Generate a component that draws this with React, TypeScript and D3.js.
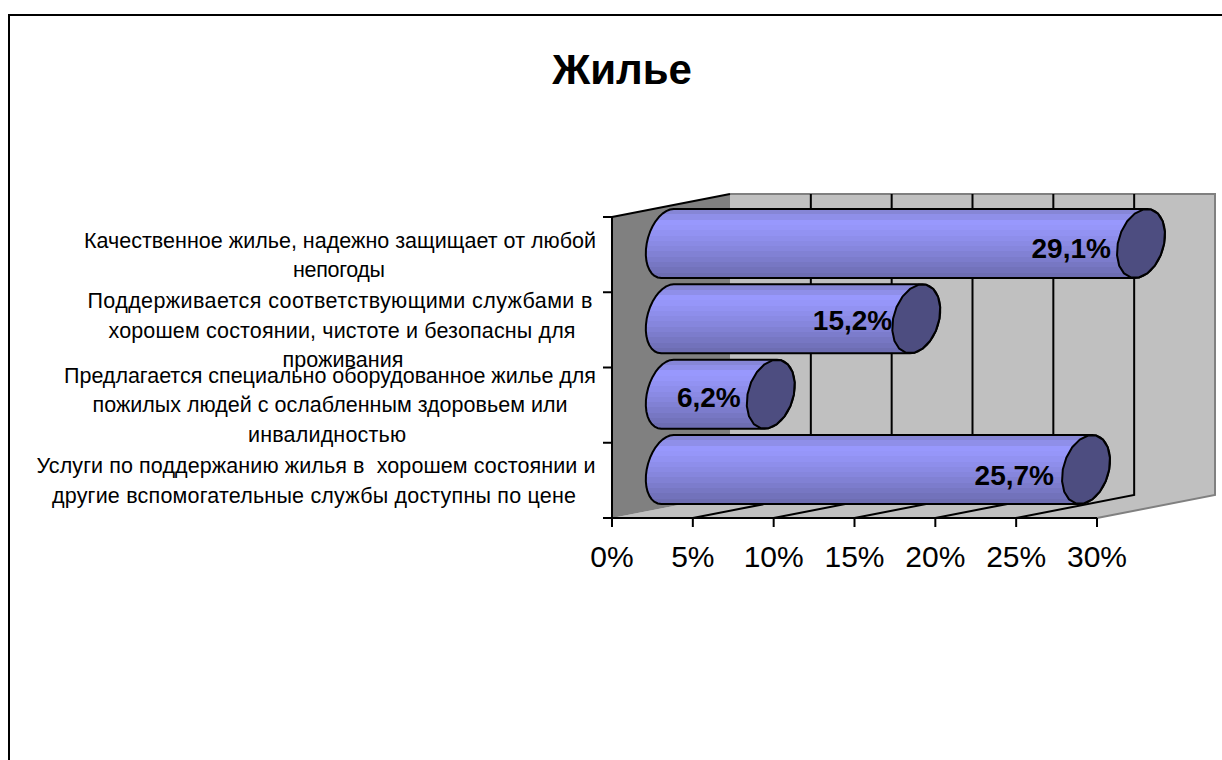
import React from "react";
import * as d3 from "d3";

const title = "Жилье";
const categories = [
  "Качественное жилье, надежно защищает от любой непогоды",
  "Поддерживается соответствующими службами в хорошем состоянии, чистоте и безопасны для проживания",
  "Предлагается специально оборудованное жилье для пожилых людей с ослабленным здоровьем или инвалидностью",
  "Услуги по поддержанию жилья в  хорошем состоянии и другие вспомогательные службы доступны по цене",
];
const values = [29.1, 15.2, 6.2, 25.7];
const valueLabels = ["29,1%", "15,2%", "6,2%", "25,7%"];
const axisTicks = [0, 5, 10, 15, 20, 25, 30];

const labelLines = [
  ["Качественное жилье, надежно защищает от любой", "непогоды"],
  ["Поддерживается соответствующими службами в", "хорошем состоянии, чистоте и безопасны для", "проживания"],
  ["Предлагается специально оборудованное жилье для", "пожилых людей с ослабленным здоровьем или", "инвалидностью"],
  ["Услуги по поддержанию жилья в  хорошем состоянии и", "другие вспомогательные службы доступны по цене"],
];
// layout of the wrapped labels
const lineBaselines = [[248, 277], [308, 338, 367], [383, 412, 442], [473, 503]];
const lineCentres = [[340, 339], [340, 342, 343], [330, 330, 327], [316, 314]];
const lineWidths = [[512, 92], [505, 467, 121], [532, 475, 158], [559, 524]];
const labelEnds = [0, 6, 0, -2];
const labelBaselines = [258, 330, 407, 485];

const FONT = '"Liberation Sans", Arial, sans-serif';
const depthX = 118;
const depthY = 23;
const floorY = 518;
const backTop = 194;
const backBottom = floorY - depthY;

const xFront = d3.scaleLinear().domain([0, 30]).range([612, 1097]);
const xBack = (v: number) => xFront(v) + depthX;
const xMid = (v: number) => xFront(v) + 58.5;
const yBand = d3.scaleBand<number>().domain(d3.range(categories.length)).range([209, 504]).paddingInner(0.084);
const yTick = d3.scaleLinear().domain([0, categories.length]).range([217, floorY]);

const rx = 23.2;
const skew = 6.2;
const line = d3.line<[number, number]>();
const CAP_STEPS = 18;

function capPoints(cx: number, top: number, h: number, rad: number, from: number, to: number) {
  const ry = h / 2;
  const cy = top + ry;
  return d3.range(CAP_STEPS + 1).map((i) => {
    const t = from + ((to - from) * i) / CAP_STEPS;
    const dy = Math.sin(t) * ry;
    const p: [number, number] = [cx + Math.cos(t) * rad - (dy / ry) * skew, cy + dy];
    return p;
  });
}

// the horizontal shading bands of the cylinder
const shade = d3
  .scaleLinear<string>()
  .domain([0, 0.2, 0.55, 1])
  .range(["#8282cc", "#9999ff", "#8888e0", "#6a6aae"]);
const BAND_COUNT = 13;
const bandStops = d3.range(BAND_COUNT).flatMap((i) => [
  { offset: i / BAND_COUNT, color: shade((i + 0.5) / BAND_COUNT) },
  { offset: (i + 1) / BAND_COUNT, color: shade((i + 0.5) / BAND_COUNT) },
]);

export default function App() {
  const bw = yBand.bandwidth();
  return (
    <svg
      width={1222}
      height={760}
      viewBox="0 0 1222 760"
      style={{ position: "fixed", left: 0, top: 0, background: "#fff" }}
      fontFamily={FONT}
    >
      <defs>
        <linearGradient id="cyl" x1="0" y1="0" x2="0" y2="1">
          {bandStops.map((s, i) => (
            <stop key={i} offset={s.offset} stopColor={s.color} />
          ))}
        </linearGradient>
      </defs>

      {/* frame */}
      <path d="M9,760 V15 H1222" fill="none" stroke="#000" strokeWidth={2} />

      <text x={622} y={84} textAnchor="middle" fontSize={42} fontWeight={700} fill="#000">
        {title}
      </text>

      {/* walls */}
      <path
        d={line([
          [xFront(0), floorY],
          [xBack(0), backBottom],
          [xBack(0), backTop],
          [xBack(30), backTop],
          [xBack(30), backBottom],
          [xFront(30), floorY],
        ])! + "Z"}
        fill="#c0c0c0"
      />
      <path
        d={line([
          [xBack(0), backTop],
          [xBack(30), backTop],
          [xBack(30), backBottom],
          [xFront(30), floorY],
        ])!}
        stroke="#808080"
        strokeWidth={2}
        fill="none"
      />
      <path
        d={line([
          [xFront(0), yTick(0)],
          [xBack(0), backTop],
          [xBack(0), backBottom],
          [xFront(0), floorY],
        ])! + "Z"}
        fill="#808080"
      />
      <path
        d={line([
          [xFront(0), yTick(0)],
          [xBack(0), backTop],
        ])!}
        stroke="#000"
        strokeWidth={2}
        fill="none"
      />

      {/* gridlines: back wall and floor */}
      {axisTicks.slice(1, -1).map((t) => (
        <path
          key={t}
          d={line([
            [xBack(t), backTop],
            [xBack(t), backBottom],
            [xFront(t), floorY],
          ])!}
          stroke="#000"
          strokeWidth={2}
          fill="none"
        />
      ))}

      {/* bars */}
      {values.map((v, i) => {
        const top = yBand(i)!;
        const x1 = xMid(v);
        const x0 = xMid(0);
        const body = [
          ...capPoints(x1, top, bw, rx, -Math.PI / 2, Math.PI / 2),
          ...capPoints(x0 - 3, top, bw, rx - 2.4, Math.PI / 2, (3 * Math.PI) / 2),
        ];
        return (
          <g key={i}>
            <path d={line(body)! + "Z"} fill="url(#cyl)" stroke="#000" strokeWidth={2} strokeLinejoin="round" />
            <path
              d={line(capPoints(x1, top, bw, rx, 0, 2 * Math.PI))! + "Z"}
              fill="#4d4d80"
              stroke="#000"
              strokeWidth={2}
              strokeLinejoin="round"
            />
            <text
              x={x1 - 30 + labelEnds[i]}
              y={labelBaselines[i]}
              textAnchor="end"
              fontSize={28}
              fontWeight={700}
              fill="#000"
            >
              {valueLabels[i]}
            </text>
          </g>
        );
      })}

      {/* axes */}
      <path
        d={`M${xFront(0)},${yTick(0)} V${floorY} M${xFront(0) - 9},${floorY} H${xFront(30)}`}
        fill="none"
        stroke="#000"
        strokeWidth={2}
      />
      {d3.range(categories.length).map((i) => (
        <line key={i} x1={xFront(0) - 9} x2={xFront(0)} y1={yTick(i)} y2={yTick(i)} stroke="#000" strokeWidth={2} />
      ))}
      {axisTicks.map((t) => (
        <g key={t}>
          <line x1={xFront(t)} x2={xFront(t)} y1={floorY} y2={floorY + 9} stroke="#000" strokeWidth={2} />
          <text x={xFront(t)} y={567} textAnchor="middle" fontSize={30} fill="#000">
            {t}%
          </text>
        </g>
      ))}

      {/* category labels */}
      {labelLines.map((lines, i) =>
        lines.map((l, j) => (
          <text
            key={`${i}-${j}`}
            x={lineCentres[i][j]}
            y={lineBaselines[i][j]}
            textAnchor="middle"
            fontSize={21.5}
            fill="#000"
            textLength={lineWidths[i][j]}
            lengthAdjust="spacing"
            style={{ whiteSpace: "pre" }}
          >
            {l}
          </text>
        ))
      )}
    </svg>
  );
}
